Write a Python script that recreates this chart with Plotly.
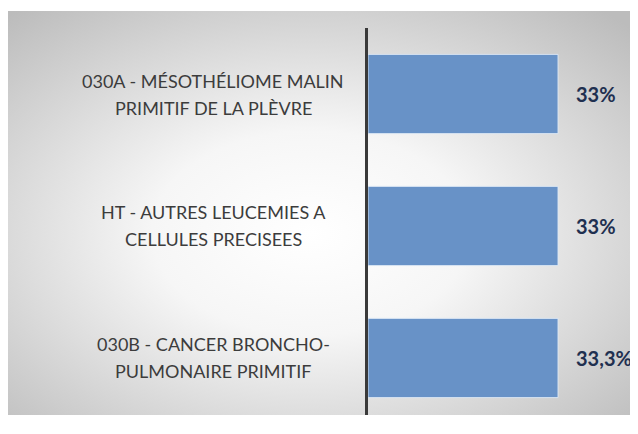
import plotly.graph_objects as go
import urllib.parse

categories = [
    "030A - MÉSOTHÉLIOME MALIN<br>PRIMITIF DE LA PLÈVRE",
    "HT - AUTRES LEUCEMIES A<br>CELLULES PRECISEES",
    "030B - CANCER BRONCHO-<br>PULMONAIRE PRIMITIF",
]
values = [33.3, 33.3, 33.3]
value_labels = ["33%", "33%", "33,3%"]

# page body has an 8px margin, so figure coordinates are screen - 8
W, H = 630, 426
L, R, T, B = 360, 8, 20, 19
pw = W - L - R
ph = H - T - B

def px_x(p):
    return (p - L) / pw

def px_y(p):
    return (H - B - p) / ph

svg = (
    "<svg xmlns='http://www.w3.org/2000/svg' width='630' height='404' preserveAspectRatio='none'>"
    "<defs><radialGradient id='g' cx='48%' cy='55%' r='72%'>"
    "<stop offset='0%' stop-color='#ffffff'/>"
    "<stop offset='35%' stop-color='#f6f6f6'/>"
    "<stop offset='100%' stop-color='#bcbcbc'/>"
    "</radialGradient></defs>"
    "<rect x='0' y='0' width='630' height='404' fill='url(#g)'/></svg>"
)
src = "data:image/svg+xml;charset=utf-8," + urllib.parse.quote(svg)

fig = go.Figure()
fig.add_trace(go.Bar(
    y=categories, x=values, orientation="h",
    marker=dict(color="#6892C7", line=dict(color="rgba(220,232,245,0.9)", width=1)),
    width=0.6, hoverinfo="skip",
))

annotations = []
for c, v, t in zip(categories, values, value_labels):
    annotations.append(dict(
        x=v, y=c, xref="x", yref="y", text=t, showarrow=False,
        xanchor="left", xshift=16,
        font=dict(family="Lato", size=20, color="#1F3050", weight="bold"),
    ))
    lines = c.split("<br>")
    for i, line in enumerate(lines):
        annotations.append(dict(
            x=px_x(205), y=c, xref="paper", yref="y", text=line, showarrow=False,
            xanchor="center", align="center", yshift=13.5 - 27 * i,
            font=dict(family="Lato", size=18, color="#3c3c3c"),
        ))

fig.update_layout(
    width=W, height=H,
    margin=dict(l=L, r=R, t=T, b=B),
    paper_bgcolor="white",
    plot_bgcolor="rgba(0,0,0,0)",
    showlegend=False,
    xaxis=dict(range=[0, pw / (190 / 33.3)], visible=False, fixedrange=True),
    yaxis=dict(
        type="category", categoryorder="array", categoryarray=categories,
        range=[2.432, -0.5], showticklabels=False, ticks="",
        showgrid=False, zeroline=False,
        showline=True, linecolor="#3a3a3a", linewidth=3,
    ),
    annotations=annotations,
    images=[dict(
        source=src, xref="paper", yref="paper",
        x=px_x(0), y=px_y(3), sizex=px_x(630) - px_x(0), sizey=px_y(3) - px_y(407),
        xanchor="left", yanchor="top", sizing="stretch", layer="below",
    )],
)

fig.write_html("out.html")
